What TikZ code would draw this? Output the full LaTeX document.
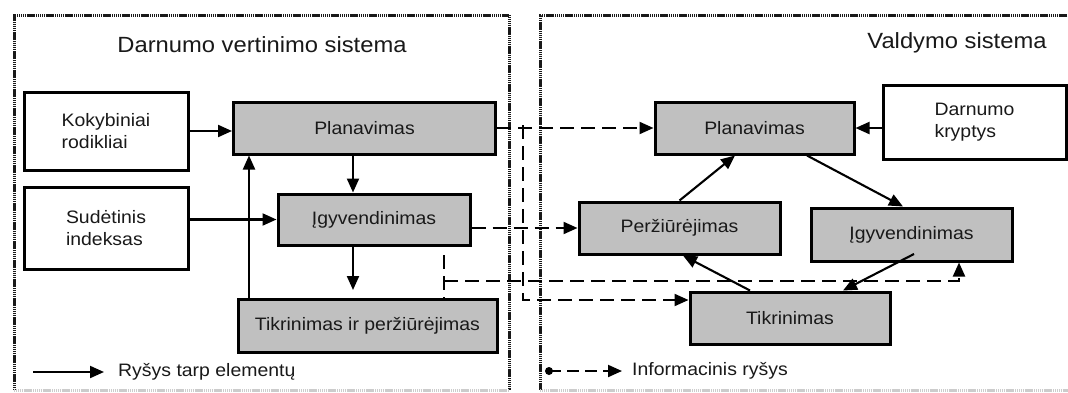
\documentclass[tikz,border=0pt]{standalone}
\usepackage{fontspec}
\setmainfont[FakeStretch=1.08]{Liberation Sans}
\usetikzlibrary{arrows.meta,calc}
\definecolor{boxgray}{RGB}{192,192,192}
\definecolor{ink}{RGB}{25,25,25}
\tikzset{
  box/.style={draw=black, line width=3pt, fill=white, inner sep=0pt, align=left,
    font=\fontsize{18}{22}\selectfont, text=ink},
  gbox/.style={box, fill=boxgray, align=center},
  txt/.style={inner sep=0pt, font=\fontsize{18}{22}\selectfont, text=ink},
  ttl/.style={inner sep=0pt, font=\fontsize{22}{26}\selectfont, text=ink},
  conn/.style={line width=2.1pt, -{Triangle[length=14pt,width=12pt]}},
  info/.style={conn, dash pattern=on 14pt off 7pt},
  infoseg/.style={line width=2.1pt, dash pattern=on 14pt off 7pt},
  framestyle/.style={line width=3pt, dash pattern=on 1.3pt off 0.6pt, draw=black!90}
}
\begin{document}
\begin{tikzpicture}[x=1pt,y=-1pt]
\useasboundingbox (0,0) rectangle (1068,392);
\fill[white] (0,0) rectangle (1068,392);
% frames
\draw[framestyle] (14,390) -- (14,15) -- (509,15) -- (509,390);
\draw[framestyle, draw=black!20] (14,390) -- (509,390);
\draw[framestyle] (1075,15) -- (540,15) -- (540,390);
\draw[framestyle, draw=black!20] (540,390) -- (1075,390);
% titles
\node[ttl] (t1) at (262,45) {Darnumo vertinimo sistema};
\node[ttl] (t2) at (957,43) {Valdymo sistema};
% left boxes
\node[box, minimum width=164pt, minimum height=78pt] (kok) at (106,131) {Kokybiniai\\rodikliai};
\node[gbox, minimum width=262pt, minimum height=52pt] (planL) at (364.5,128) {Planavimas};
\node[box, minimum width=164pt, minimum height=82pt] (sud) at (106,228) {Sudėtinis\\indeksas};
\node[gbox, minimum width=192pt, minimum height=51pt] (igyL) at (374,219.5) {Įgyvendinimas};
\node[gbox, minimum width=259pt, minimum height=53pt] (tikL) at (367.5,325.5) {Tikrinimas ir peržiūrėjimas};
% right boxes
\node[gbox, minimum width=199pt, minimum height=52pt] (planR) at (754.5,128) {Planavimas};
\node[box, minimum width=183pt, minimum height=74pt] (darn) at (974.5,122) {Darnumo\\kryptys};
\node[gbox, minimum width=201pt, minimum height=52pt] (perz) at (679.5,228) {Peržiūrėjimas};
\node[gbox, minimum width=201pt, minimum height=53pt] (igyR) at (911.5,234.5) {Įgyvendinimas};
\node[gbox, minimum width=200pt, minimum height=52pt] (tikR) at (790,318) {Tikrinimas};
% left connectors
\draw[conn] (kok.east) -- (kok.east -| planL.west);
\draw[conn] (sud.east |- igyL.west) -- (igyL.west);
\draw[conn] (planL.south -| 353,0) -- (igyL.north -| 353,0);
\coordinate (tikLin) at (353,290);
\draw[conn] (igyL.south -| 353,0) -- (tikLin);
\draw[conn] (tikL.north -| 249,0) -- (planL.south -| 249,0);
% right connectors
\draw[conn] (darn.west |- planR.east) -- (planR.east);
\draw[conn] (perz.north) -- (planR.south -| 735,0);
\draw[conn] (planR.south -| 807,0) -- (igyR.north -| 903,0);
\coordinate (igyRout) at (914,254);
\draw[conn] (igyRout) -- (tikR.north -| 843,0);
\draw[conn] (tikR.north -| 750,0) -- (perz.south -| 683,0);
% information links
\draw[info] (planL.east) -- (planR.west);
\coordinate (j1) at (523,125);
\draw[info] (j1) -- (523,300) -- (tikR.west |- 0,300);
\draw[info] (igyL.east |- perz.west) -- (perz.west);
\coordinate (j2) at (444,255);
\draw[infoseg] (j2) -- (tikL.north -| 444,0);
\coordinate (j3) at (444,281);
\draw[info] (j3) -- (959,281) -- (igyR.south -| 959,0);
% legend
\coordinate (l1a) at (33,372);
\coordinate (l1b) at (104,372);
\draw[conn] (l1a) -- (l1b);
\node[txt, anchor=west] (lg1) at (118,372) {Ryšys tarp elementų};
\coordinate (l2a) at (549,371);
\coordinate (l2b) at (622,371);
\fill[black] (l2a) circle (4pt);
\draw[conn, dash pattern=on 12pt off 6pt] (l2a) -- (l2b);
\node[txt, anchor=west] (lg2) at (632,371) {Informacinis ryšys};
\end{tikzpicture}
\end{document}
